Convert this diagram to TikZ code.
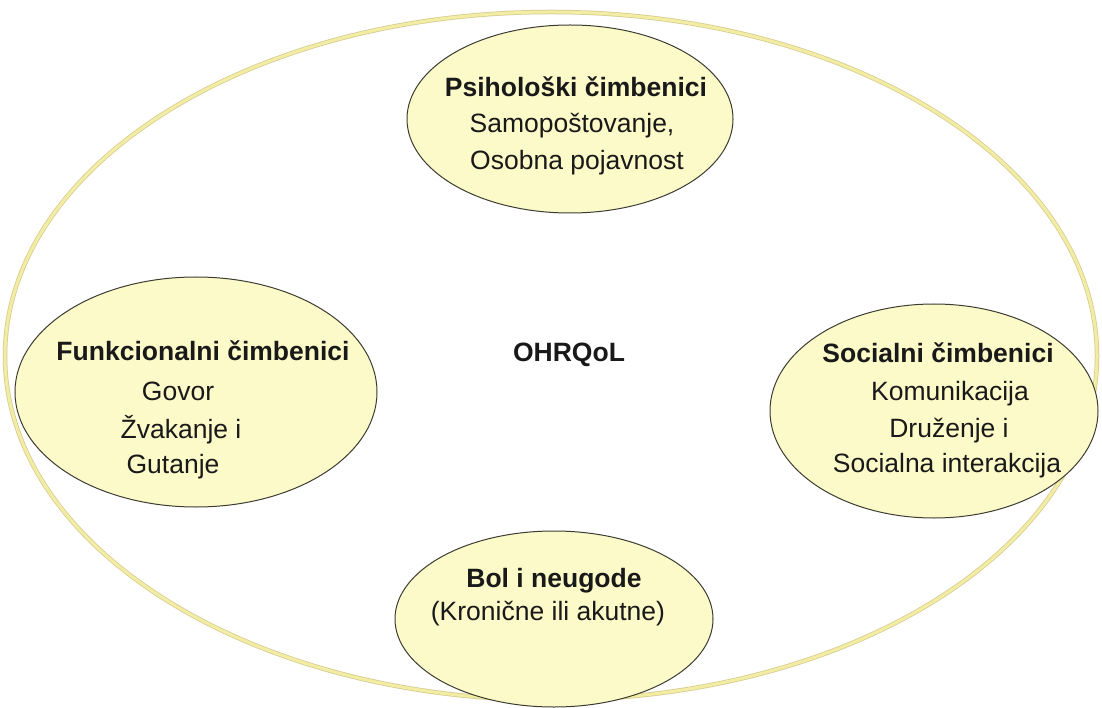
\documentclass[tikz,border=0pt]{standalone}
\usepackage{fontspec}
\setmainfont{Liberation Sans}
\usetikzlibrary{shapes.geometric}
\definecolor{outerline}{RGB}{242,236,165}
\definecolor{outeredge}{RGB}{212,204,140}
\definecolor{bubblefill}{RGB}{252,250,200}
\definecolor{bubbleline}{RGB}{60,60,50}
\definecolor{txt}{RGB}{25,25,25}
\tikzset{
  bubble/.style={ellipse, draw=bubbleline, line width=1pt, fill=bubblefill, inner sep=0pt},
  lbl/.style={anchor=base, inner sep=0pt, text=txt, font=\fontsize{26.5}{32}\selectfont},
  blbl/.style={lbl, font=\fontsize{26.5}{32}\selectfont\bfseries},
}
\begin{document}
\begin{tikzpicture}[x=1pt,y=-1pt]
\useasboundingbox (0,0) rectangle (1102,708);
\fill[white] (0,0) rectangle (1102,708);
% outer ellipse
\node[ellipse, draw=outeredge, line width=4.5pt, minimum width=1092pt, minimum height=688pt, inner sep=0pt] (outer) at (551,356) {};
\node[ellipse, draw=outerline, line width=3pt, minimum width=1092pt, minimum height=688pt, inner sep=0pt] (outerin) at (551,356) {};
% bubbles
\node[bubble, minimum width=326pt, minimum height=188pt] (top) at (570,119) {};
\node[bubble, minimum width=362pt, minimum height=230pt] (left) at (196,392) {};
\node[bubble, minimum width=328pt, minimum height=214pt] (right) at (934,411) {};
\node[bubble, minimum width=318pt, minimum height=176pt] (bottom) at (554,619) {};
% texts
\node[blbl] (t1) at (576,97) {Psihološki čimbenici};
\node[lbl] (t2) at (572,133) {Samopoštovanje,};
\node[lbl] (t3) at (577,170) {Osobna pojavnost};

\node[blbl] (l1) at (203,360) {Funkcionalni čimbenici};
\node[lbl] (l2) at (178,400) {Govor};
\node[lbl] (l3) at (181,438) {Žvakanje i};
\node[lbl] (l4) at (173,473) {Gutanje};

\node[blbl] (r1) at (938,362) {Socialni čimbenici};
\node[lbl] (r2) at (950,400) {Komunikacija};
\node[lbl] (r3) at (949,437) {Druženje i};
\node[lbl] (r4) at (947,472) {Socialna interakcija};

\node[blbl] (b1) at (554,587) {Bol i neugode};
\node[lbl] (b2) at (548,620) {(Kronične ili akutne)};

\node[blbl] (c) at (569,361) {OHRQoL};
\end{tikzpicture}
\end{document}
